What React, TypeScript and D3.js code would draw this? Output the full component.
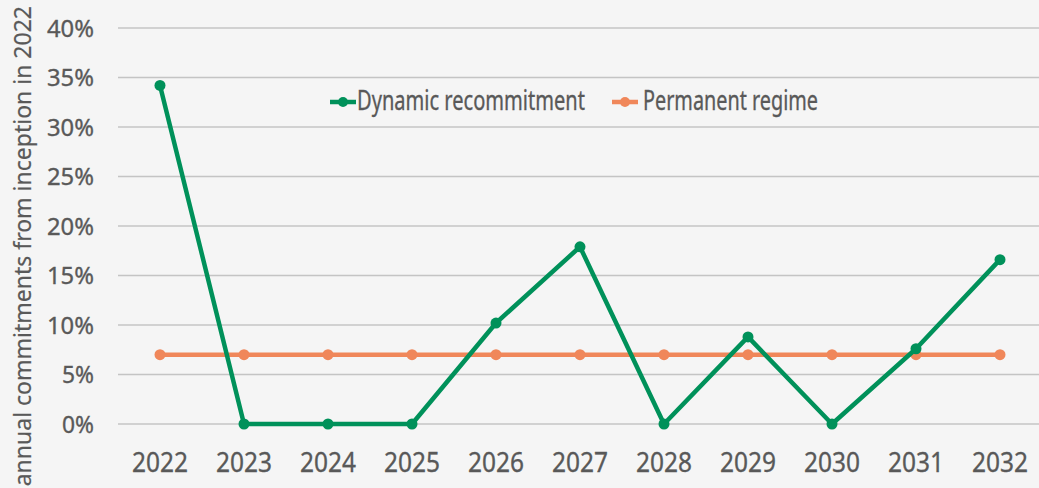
import React from "react";
import * as d3 from "d3";

const years = ["2022","2023","2024","2025","2026","2027","2028","2029","2030","2031","2032"];
const dynamicValues = [34.2, 0, 0, 0, 10.2, 17.9, 0, 8.8, 0, 7.6, 16.6];
const permanentValues = [7.0, 7.0, 7.0, 7.0, 7.0, 7.0, 7.0, 7.0, 7.0, 7.0, 7.0];
const yTicks = [0, 5, 10, 15, 20, 25, 30, 35, 40];
const seriesNames = ["Dynamic recommitment", "Permanent regime"];
const yTitle = "annual commitments from inception in 2022";

const W = 1039, H = 488;
const GREEN = "#00915a";
const ORANGE = "#f0875a";
const TEXT = "#595959";
const FONT = "'Noto Sans', sans-serif";

export default function App() {
  const x = d3.scaleBand<string>().domain(years).range([118, 1042]);
  const y = d3.scaleLinear().domain([0, 40]).range([424, 28]);
  const cx = (d: string) => (x(d) as number) + x.bandwidth() / 2;
  const line = d3.line<number>().x((_, i) => cx(years[i])).y((v) => y(v));

  const series = [
    { name: seriesNames[0], values: dynamicValues, color: GREEN },
    { name: seriesNames[1], values: permanentValues, color: ORANGE },
  ];
  const legend = [
    { x0: 330, tx: 357, len: 228, ...series[0] },
    { x0: 612, tx: 643, len: 175, ...series[1] },
  ];
  const txt = { fill: TEXT, stroke: TEXT, strokeWidth: 0.35 };

  return (
    <svg width={W} height={H} style={{ position: "fixed", left: 0, top: 0, background: "#f5f5f5" }} fontFamily={FONT}>
      <rect width={W} height={H} fill="#f5f5f5" />
      {yTicks.map((t) => (
        <g key={t}>
          <line x1={118} x2={1042} y1={y(t)} y2={y(t)} stroke="#c4c4c4" strokeWidth={1.5} />
          <text x={94} y={y(t)} dy="0.36em" textAnchor="end" fontSize={24} {...txt}
            textLength={t < 10 ? 32 : 47} lengthAdjust="spacingAndGlyphs">{t}%</text>
        </g>
      ))}
      {years.map((yr) => (
        <text key={yr} x={cx(yr)} y={472} textAnchor="middle" fontSize={28} {...txt}
          textLength={56} lengthAdjust="spacingAndGlyphs">{yr}</text>
      ))}
      <text transform={`translate(31,6) rotate(-90)`} textAnchor="end" fontSize={23} {...txt} strokeWidth={0.2}>{yTitle}</text>
      {series.slice().reverse().map((s) => (
        <g key={s.name}>
          <path d={line(s.values) || ""} fill="none" stroke={s.color} strokeWidth={4.5} strokeLinejoin="round" />
          {s.values.map((v, i) => (
            <circle key={i} cx={cx(years[i])} cy={y(v)} r={5.5} fill={s.color} />
          ))}
        </g>
      ))}
      {legend.map((l) => (
        <g key={l.name}>
          <line x1={l.x0} x2={l.x0 + 26} y1={102} y2={102} stroke={l.color} strokeWidth={4.5} />
          <circle cx={l.x0 + 13} cy={102} r={5} fill={l.color} />
          <text x={l.tx} y={110} fontSize={27} {...txt} textLength={l.len} lengthAdjust="spacingAndGlyphs">{l.name}</text>
        </g>
      ))}
    </svg>
  );
}
